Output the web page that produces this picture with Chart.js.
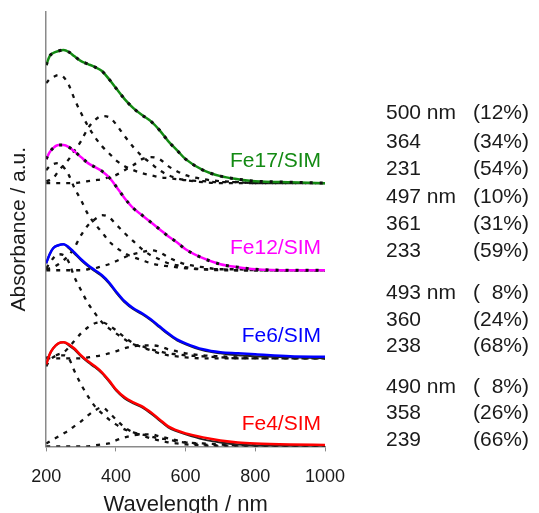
<!DOCTYPE html>
<html>
<head>
<meta charset="utf-8">
<title>Fe/SIM UV-vis deconvolution</title>
<script src="https://cdn.jsdelivr.net/npm/chart.js@4"></script>
<style>
  html, body { margin: 0; padding: 0; overflow: hidden; background: #fff; }
  canvas { display: block; }
</style>
</head>
<body>
<canvas id="chart" width="539" height="520"></canvas>
<script>
// wavelength grid (nm)
const wavelengths = [200, 210, 220, 235, 250, 265, 280, 300, 320, 340, 360, 380, 400, 425, 450, 475, 500, 525, 550, 575, 600, 650, 700, 750, 800, 900, 1000];

// vertical offset of each spectrum (a.u.)
const offsets = { fe4: 0, fe6: 88, fe12: 176, fe17: 263 };

// measured spectra (a.u., above own baseline)
const fe17Measured = [118, 127, 130, 132, 133, 131, 127, 122, 119, 116, 112, 104, 95, 84, 75, 68, 62, 53, 42, 33, 24, 13, 7, 4, 2, 1, 0];
const fe12Measured = [111, 118, 122, 125, 125, 123, 119, 113, 107, 103, 99, 93, 84, 72, 62, 55, 48, 41, 34, 28, 21, 12, 6, 3, 1, 0, 0];
const fe6Measured  = [95, 104, 110, 113, 114, 111, 106, 99, 93, 88, 83, 76, 67, 57, 50, 45, 39, 32, 25, 19, 15, 9, 6, 5, 4, 2, 1.5];
const fe4Measured  = [82, 92, 98, 103, 104, 102, 98, 91, 85, 80, 74, 66, 57, 49, 44, 40, 34, 27, 20, 16, 13, 9, 6, 4, 3, 2, 1.5];

// fitted envelopes
const fe17Fit = fe17Measured;
const fe12Fit = fe12Measured;
const fe6Fit  = [95, 104, 110, 113, 114, 110, 105, 98, 92, 87, 82, 75, 66, 56, 49, 44, 38, 31, 24, 18, 14, 8, 5, 3, 2, 1, 0];
const fe4Fit  = [82, 92, 98, 103, 104, 101, 97, 90, 84, 79, 73, 65, 56, 48, 43, 39, 33, 26, 19, 15, 12, 7, 4, 2, 1, 0.5, 0];

// gaussian components
const fe17Band231 = [100, 104, 106, 108, 106, 98, 85, 70, 57, 46, 37, 30, 23, 17, 13, 10, 8, 6, 5, 4, 3, 2, 1, 1, 0, 0, 0];
const fe17Band364 = [2, 3, 5, 12, 18, 24, 32, 42, 55, 63, 67, 66, 59, 47, 36, 27, 20, 13, 8, 5, 3, 1, 0, 0, 0, 0, 0];
const fe17Band500 = [0, 0, 0, 0, 0, 0, 0, 1, 2, 3, 4, 6, 8, 13, 18, 24, 26, 24, 17, 12, 8, 4, 2, 1, 0, 0, 0];

const fe12Band233 = [100, 104, 106, 107, 103, 95, 83, 70, 56, 46, 38, 29, 23, 17, 13, 10, 7, 5, 4, 3, 2, 1, 1, 0, 0, 0, 0];
const fe12Band361 = [1, 2, 3, 6, 10, 15, 22, 35, 45, 51, 55, 53, 46, 37, 29, 21, 15, 11, 7, 5, 3, 1, 0, 0, 0, 0, 0];
const fe12Band497 = [0, 0, 0, 0, 0, 0, 0, 0, 1, 2, 4, 6, 9, 13, 16, 18, 20, 18, 13, 9, 6, 3, 1, 1, 0, 0, 0];

const fe6Band238 = [90, 95, 100, 104, 103, 96, 82, 68, 55, 45, 36, 30, 25, 19, 14, 12, 9, 7, 5, 4, 3, 2, 1, 0, 0, 0, 0];
const fe6Band360 = [1, 1, 2, 4, 6, 11, 17, 25, 31, 35, 36, 33, 28, 21, 15, 11, 8, 5, 3, 2, 1, 0, 0, 0, 0, 0, 0];
const fe6Band493 = [0, 0, 0, 0, 0, 0, 0, 0, 1, 2, 3, 5, 7, 10, 12, 13, 13, 12, 9, 7, 5, 3, 2, 1, 1, 0, 0];

const fe4Band239 = [80, 86, 89, 91, 91, 88, 76, 62, 50, 40, 33, 27, 22, 17, 14, 12, 10, 8, 7, 5, 4, 3, 2, 1, 1, 0, 0];
const fe4Band358 = [3, 5, 7, 10, 13, 16, 20, 25, 31, 36, 39, 34, 27, 19, 14, 11, 8, 6, 4, 3, 2, 1, 0, 0, 0, 0, 0];
const fe4Band490 = [0, 0, 0, 0, 0, 0, 0, 0, 0, 1, 2, 3, 6, 9, 11, 12, 12, 10, 8, 6, 4, 2, 1, 1, 0, 0, 0];

// text on the right
const peakLabels  = ['500 nm', '364', '231', '497 nm', '361', '233', '493 nm', '360', '238', '490 nm', '358', '239'];
const shareLabels = ['(12%)', '(34%)', '(54%)', '(10%)', '(31%)', '(59%)', '(  8%)', '(24%)', '(68%)', '(  8%)', '(26%)', '(66%)'];
const sampleNames = ['Fe17/SIM', 'Fe12/SIM', 'Fe6/SIM', 'Fe4/SIM'];

const FONT = 'Arial, "Liberation Sans", sans-serif';
const samples = [
  { name: sampleNames[0], off: offsets.fe17, meas: fe17Measured, fit: fe17Fit, bands: [fe17Band231, fe17Band364, fe17Band500], color: '#138a13', fitOnTop: true },
  { name: sampleNames[1], off: offsets.fe12, meas: fe12Measured, fit: fe12Fit, bands: [fe12Band233, fe12Band361, fe12Band497], color: '#ff00ff', fitOnTop: true },
  { name: sampleNames[2], off: offsets.fe6,  meas: fe6Measured,  fit: fe6Fit,  bands: [fe6Band238, fe6Band360, fe6Band493],    color: '#0000ff', fitOnTop: false },
  { name: sampleNames[3], off: offsets.fe4,  meas: fe4Measured,  fit: fe4Fit,  bands: [fe4Band239, fe4Band358, fe4Band490],    color: '#ff0000', fitOnTop: false }
];

function pts(arr, off) {
  return wavelengths.map((x, i) => ({ x: x, y: off + arr[i] }));
}

const datasets = [];
samples.forEach(s => {
  s.bands.forEach(b => {
    datasets.push({
      data: pts(b, s.off), borderColor: '#111', borderWidth: 2.3,
      borderDash: [4, 6], order: 4
    });
  });
  datasets.push({
    data: pts(s.meas, s.off), borderColor: s.color, borderWidth: 2.5, order: 2
  });
  datasets.push(s.fitOnTop
    ? { data: pts(s.fit, s.off), borderColor: '#111', borderWidth: 3, borderDash: [3, 7], order: 1 }
    : { data: pts(s.fit, s.off), borderColor: '#222', borderWidth: 2, order: 3 });
});

// right-hand texts and sample names
const textPlugin = {
  id: 'texts',
  afterDraw(chart) {
    const ctx = chart.ctx;
    const xs = chart.scales.x, ys = chart.scales.y;
    ctx.save();
    ctx.font = '21px ' + FONT;
    ctx.textBaseline = 'middle';
    samples.forEach(s => {
      ctx.fillStyle = s.color;
      ctx.textAlign = 'right';
      ctx.fillText(s.name, xs.getPixelForValue(1000) - 4, ys.getPixelForValue(s.off + 22));
    });
    const rowY = [113, 142, 169, 197, 224, 251, 293, 320, 346, 387, 413, 440];
    ctx.fillStyle = '#1a1a1a';
    ctx.textAlign = 'left';
    peakLabels.forEach((t, i) => {
      ctx.fillText(t, 386, rowY[i]);
      ctx.fillText(shareLabels[i], 473, rowY[i]);
    });
    ctx.restore();
  }
};

new Chart(document.getElementById('chart'), {
  type: 'line',
  data: { datasets: datasets },
  options: {
    responsive: false,
    animation: false,
    layout: { padding: { top: 12, right: 214, left: 3, bottom: 0 } },
    elements: {
      point: { radius: 0 },
      line: { cubicInterpolationMode: 'monotone', fill: false }
    },
    plugins: { legend: { display: false }, tooltip: { enabled: false } },
    scales: {
      x: {
        type: 'linear', min: 200, max: 1000,
        border: { color: '#8a8a8a', width: 1.5 },
        grid: { drawOnChartArea: false, drawTicks: true, tickLength: 5, color: '#8a8a8a' },
        ticks: {
          stepSize: 200, color: '#1a1a1a', font: { family: FONT, size: 18 }, padding: 15, maxRotation: 0,
          callback: v => String(v)
        },
        title: { display: true, text: 'Wavelength / nm', color: '#1a1a1a', font: { family: FONT, size: 22, lineHeight: 1 }, padding: { top: -9, bottom: 4 } }
      },
      y: {
        min: 0, max: 434,
        border: { color: '#8a8a8a', width: 1.5 },
        grid: { display: false, drawTicks: false },
        ticks: { display: false },
        title: { display: true, text: 'Absorbance / a.u.', color: '#1a1a1a', font: { family: FONT, size: 21, lineHeight: 1.2 }, padding: { top: 4, bottom: 14 } }
      }
    }
  },
  plugins: [textPlugin]
});
</script>
</body>
</html>
